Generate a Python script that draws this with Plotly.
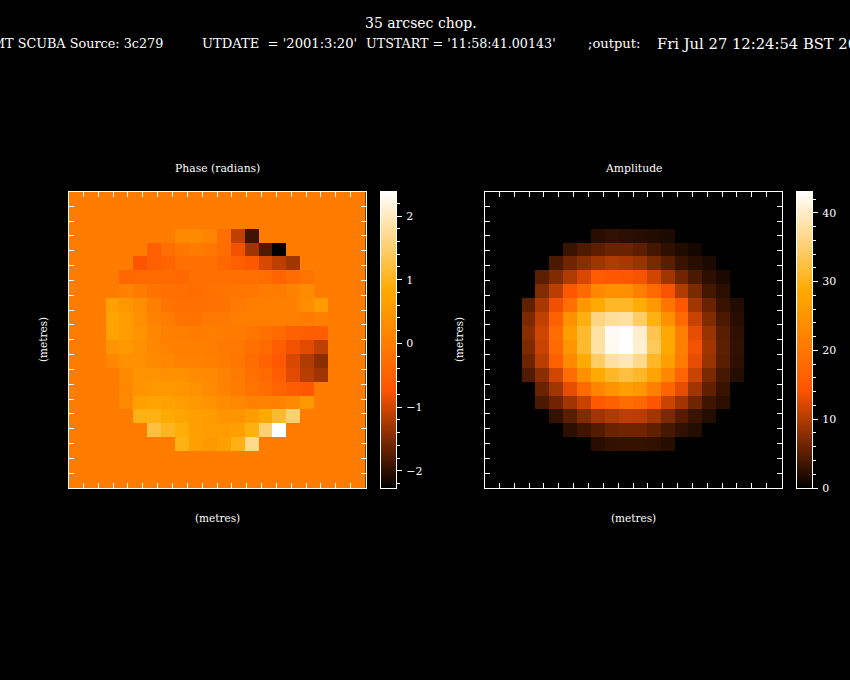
import numpy as np
import plotly.graph_objects as go

# maps are 16 x 16, top row first; 0 outside the dish
PHASE = [
    [0, 0, 0, 0, 0, 0.25, 0.25, 0.1, -0.26, -1.1, -1.9, 0, 0, 0, 0, 0],
    [0, 0, 0, -0.54, -0.26, -0.09, 0, -0.09, -0.3, -0.8, -1.3, -1.79, -2.27, 0, 0, 0],
    [0, 0, -0.73, -0.53, -0.45, -0.27, -0.22, -0.22, -0.38, -0.53, -0.7, -0.95, -1.12, -1.29, 0, 0],
    [0, -0.38, -0.33, -0.33, -0.33, -0.36, -0.22, -0.22, -0.22, -0.22, -0.22, -0.3, -0.45, -0.3, -0.15, 0],
    [0, 0.13, -0.01, -0.15, -0.22, -0.26, -0.3, -0.18, -0.15, -0.09, -0.09, -0.01, -0.01, 0.13, 0.29, 0],
    [0.65, 0.5, 0.32, 0.07, -0.15, -0.22, -0.22, -0.2, -0.15, -0.05, 0.03, 0.03, 0.05, 0.13, 0.3, 0.58],
    [0.72, 0.6, 0.36, 0.1, 0, -0.15, -0.15, -0.08, -0.04, 0.03, 0.03, 0.03, 0.03, 0.03, -0.01, 0.07],
    [0.68, 0.58, 0.43, 0.21, 0.07, 0.03, -0.01, 0.03, 0, 0, -0.12, -0.22, -0.33, -0.5, -0.58, -0.58],
    [0.43, 0.5, 0.36, 0.21, 0.1, 0.07, 0.07, 0.03, -0.04, -0.08, -0.22, -0.33, -0.55, -0.8, -0.9, -1.1],
    [0.17, 0.36, 0.36, 0.25, 0.17, 0.13, 0.1, 0.07, -0.01, -0.12, -0.3, -0.45, -0.66, -0.95, -1.2, -1.43],
    [-0.01, 0.25, 0.43, 0.43, 0.36, 0.36, 0.29, 0.21, 0.1, -0.04, -0.22, -0.36, -0.58, -0.9, -1.15, -1.3],
    [0, 0.21, 0.43, 0.5, 0.5, 0.47, 0.4, 0.29, 0.13, -0.01, -0.15, -0.3, -0.45, -0.6, -0.66, 0],
    [0, 0.25, 0.65, 0.72, 0.68, 0.6, 0.5, 0.4, 0.29, 0.21, 0.13, 0.13, 0.13, 0.25, 0.5, 0],
    [0, 0, 0.94, 0.94, 0.84, 0.72, 0.65, 0.58, 0.43, 0.43, 0.6, 0.8, 1.1, 1.53, 0, 0],
    [0, 0, 0, 1.23, 1.03, 0.88, 0.65, 0.58, 0.58, 0.65, 0.95, 1.53, 2.385, 0, 0, 0],
    [0, 0, 0, 0, 0, 0.95, 0.65, 0.5, 0.65, 0.95, 1.67, 0, 0, 0, 0, 0],
]
AMPLITUDE = [
    [0, 0, 0, 0, 0, 2.3, 2.7, 2.4, 2.2, 1.9, 1.6, 0, 0, 0, 0, 0],
    [0, 0, 0, 3.3, 4.4, 5.3, 5.9, 5.9, 5.1, 3.7, 2.6, 1.8, 1.2, 0, 0, 0],
    [0, 0, 4.2, 6.3, 7.7, 9, 9.9, 9.5, 8.6, 6.8, 5, 3.2, 2.3, 1.6, 0, 0],
    [0, 5.1, 7.2, 9.9, 12.2, 15.2, 14.8, 14.6, 14, 11.7, 9, 6.3, 4.2, 2.5, 1.5, 0],
    [0, 7.2, 10.4, 14.6, 18, 23, 24.3, 24.3, 21.6, 18, 14, 10, 6.9, 3.8, 2.4, 0],
    [5.4, 9.5, 13.5, 19, 25.7, 28.7, 31, 31, 29, 25.5, 19.8, 14.5, 9, 6, 3.2, 1.9],
    [6.9, 10.8, 16.3, 24.3, 29.7, 36, 37.5, 38, 34.5, 29.8, 24.3, 18, 11.3, 7.2, 4.2, 2.3],
    [7.8, 11.7, 18.3, 26.7, 31.2, 38, 42.5, 43.1, 40.3, 33.2, 28.4, 21.6, 13, 8.6, 5, 2.6],
    [7.1, 11.3, 18, 25.3, 31.2, 38, 42.3, 43.1, 40.5, 33.8, 28.4, 21.6, 13.8, 9, 5.2, 2.7],
    [6.1, 10.4, 16.2, 23.3, 28.8, 34.5, 37.8, 39, 36.5, 31, 27, 21, 13, 8.6, 5, 2.6],
    [4.5, 7.8, 11.7, 18.2, 24.3, 28.7, 31, 32.4, 31, 27.7, 23, 16.9, 11.3, 6.9, 4, 2.1],
    [0, 6, 9, 13, 18, 22.3, 25, 27, 25.7, 21.6, 16.9, 13, 9, 5.4, 3.2, 0],
    [0, 4.2, 6.3, 9, 11.3, 15.2, 16.2, 18.2, 17.5, 14.4, 11.3, 9, 6.3, 3.6, 2.4, 0],
    [0, 0, 3, 5, 7.2, 9, 9.9, 10.6, 10.4, 9, 6.9, 4.8, 3.2, 2, 0, 0],
    [0, 0, 0, 2.5, 3.6, 4.7, 6, 6.3, 6.3, 5.4, 4, 2.7, 2, 0, 0, 0],
    [0, 0, 0, 0, 0, 2.3, 2.8, 3, 3, 2.7, 2.2, 0, 0, 0, 0, 0],
]
PHASE_RANGE = [-2.27, 2.385]
AMP_RANGE = [0, 43.1]
PHASE_TICKS = [-2, -1, 0, 1, 2]
AMP_TICKS = [0, 10, 20, 30, 40]

TITLE = "35 arcsec chop."
# the header line runs off both sides of the page, as in the original plot
HEADER_TEXTS = ["JCMT SCUBA Source: 3c279", "UTDATE\u00a0\u00a0=\u00a0'2001:3:20'",
                "UTSTART = '11:58:41.00143'", ";output:", "Fri Jul 27 12:24:54 BST 2001"]
HEADER_X = [69, 279.5, 461, 614, 766]
HEADER_SIZES = [12.8, 13.1, 12.7, 13.1, 14.75]

W, H = 850, 680
FONT = "DejaVu Serif"
HEAT = [[0, "#000000"], [1 / 3, "#ff5500"], [2 / 3, "#ffaa00"], [1, "#ffffff"]]
HALF = 10.667  # half width of the frame, in map cells
TOP, BOTTOM = 191.5, 488


def dom_x(a, b):
    return [a / W, b / W]


def dom_y(a, b):
    return [1 - b / H, 1 - a / H]


def put_text(fig, text, x, y, size, angle=0):
    fig.add_annotation(text=text, x=x / W, y=1 - y / H, xref="paper", yref="paper", xanchor="center",
                       yanchor="middle", showarrow=False, textangle=angle,
                       font=dict(size=size, color="white", family=FONT))


def add_map(fig, z, zrange, n, x0, title, label_x):
    # pad with zeros so the background is part of the map
    grid = np.pad(np.array(z, dtype=float), 3)
    centres = np.arange(-10.5, 11)
    fig.add_trace(go.Heatmap(z=grid, x=centres, y=centres[::-1], zmin=zrange[0], zmax=zrange[1],
                             colorscale=HEAT, showscale=False, xaxis=f"x{n}", yaxis=f"y{n}"))
    ax = dict(range=[-HALF, HALF], tick0=0, dtick=HALF / 10, ticks="inside", ticklen=5,
              tickcolor="white", tickwidth=1, showticklabels=False, showgrid=False, zeroline=False,
              showline=True, linecolor="white", linewidth=1, mirror="ticks")
    fig.update_layout({f"xaxis{n}": dict(ax, domain=dom_x(x0, x0 + 297), anchor=f"y{n}"),
                       f"yaxis{n}": dict(ax, domain=dom_y(TOP, BOTTOM), anchor=f"x{n}")})
    centre = x0 + 148.5
    put_text(fig, title, centre, 168, 10.8)
    put_text(fig, "(metres)", centre, 518, 10.5)
    put_text(fig, "(metres)", label_x, 340, 10.5, -90)


def add_strip(fig, zrange, ticks, minor, n, x0):
    # colour bar as its own small heatmap so it can carry minor ticks
    levels = np.linspace(zrange[0], zrange[1], 256)
    fig.add_trace(go.Heatmap(z=levels.reshape(-1, 1), x=[0], y=levels, zmin=zrange[0], zmax=zrange[1],
                             colorscale=HEAT, showscale=False, xaxis=f"x{n}", yaxis=f"y{n}"))
    fig.update_layout({
        f"xaxis{n}": dict(domain=dom_x(x0, x0 + 15.5), anchor=f"y{n}", range=[-0.5, 0.5], showticklabels=False,
                          ticks="", showgrid=False, zeroline=False, showline=True, linecolor="white",
                          linewidth=1, mirror=True),
        f"yaxis{n}": dict(domain=dom_y(TOP, BOTTOM), anchor=f"x{n}", side="right", range=zrange,
                          tickvals=ticks, ticks="outside", ticklen=5, tickcolor="white", tickwidth=1,
                          ticklabelstandoff=2, tickfont=dict(size=11, color="white", family=FONT),
                          minor=dict(dtick=minor, ticks="outside", ticklen=3, tickcolor="white", tickwidth=1),
                          showgrid=False, zeroline=False, showline=True, linecolor="white",
                          linewidth=1, mirror=True),
    })


fig = go.Figure()
add_map(fig, PHASE, PHASE_RANGE, 1, 68.5, "Phase (radians)", 43)
add_map(fig, AMPLITUDE, AMP_RANGE, 2, 484.5, "Amplitude", 459)
add_strip(fig, PHASE_RANGE, PHASE_TICKS, 0.2, 3, 380.5)
add_strip(fig, AMP_RANGE, AMP_TICKS, 2, 4, 796.5)

put_text(fig, TITLE, 420.5, 23, 14)
for text, x, size in zip(HEADER_TEXTS, HEADER_X, HEADER_SIZES):
    put_text(fig, text, x, 44, size)

fig.update_layout(width=W, height=H, autosize=False,
                  margin=dict(l=0, r=0, t=0, b=0, autoexpand=False),
                  paper_bgcolor="black", plot_bgcolor="black", showlegend=False)
page_css = "document.body.style.margin='0';document.body.style.background='black';"
fig.write_html("out.html", config={"displayModeBar": False}, post_script=page_css)
